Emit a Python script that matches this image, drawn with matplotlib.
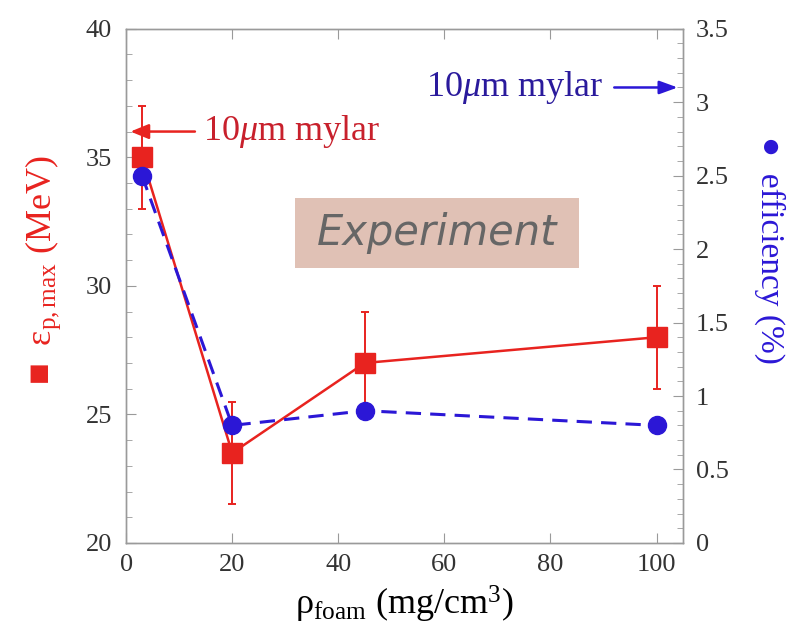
import numpy as np
import matplotlib
matplotlib.use("Agg")
import matplotlib.pyplot as plt
from matplotlib.patches import Rectangle
from matplotlib.ticker import MultipleLocator

plt.rcParams["font.family"] = ["Liberation Serif", "DejaVu Sans"]
plt.rcParams["mathtext.fontset"] = "custom"
plt.rcParams["mathtext.rm"] = "Liberation Serif"
plt.rcParams["mathtext.it"] = "Liberation Serif:italic"

# Veri
rho = [3, 20, 45, 100]
energy = [35.0, 23.5, 27.0, 28.0]
energy_err = [2.0, 2.0, 2.0, 2.0]
efficiency = [2.5, 0.8, 0.9, 0.8]

mylar_energy = 36.0
mylar_eff = 3.1

RED = "#e8231f"
BLUE = "#2b17d6"
GRAY = "#9a9a9a"
TXT = "#333333"

fig = plt.figure(figsize=(7.98, 6.38), dpi=100)
ax = fig.add_axes([0.158, 0.149, 0.698, 0.806])
ax2 = ax.twinx()

# Enerji (sol eksen)
ax.errorbar(rho, energy, yerr=energy_err, color=RED, lw=1.8, marker="s",
            ms=14, mec=RED, mfc=RED, ecolor=RED, elinewidth=1.4, capsize=3,
            capthick=1.4)
ax.set_xlim(0, 105)
ax.set_ylim(20, 40)

# Verim (sag eksen)
ax2.plot(rho, efficiency, color=BLUE, lw=2.2, ls=(0, (5, 3)), marker="o",
         ms=13, mfc=BLUE, mec=BLUE)
ax2.set_ylim(0, 3.5)

# Eksen ayarlari
for a in (ax, ax2):
    for s in a.spines.values():
        s.set_color(GRAY)
        s.set_linewidth(1.0)

ax.xaxis.set_major_locator(MultipleLocator(20))
ax.yaxis.set_major_locator(MultipleLocator(5))
ax.yaxis.set_minor_locator(MultipleLocator(1))
ax2.yaxis.set_minor_locator(MultipleLocator(0.1))
ax2.set_yticks([0, 0.5, 1, 1.5, 2, 2.5, 3, 3.5])
ax2.set_yticklabels(["0", "0.5", "1", "1.5", "2", "2.5", "3", "3.5"])

ax.tick_params(axis="x", which="both", direction="in", top=True,
               color=GRAY, length=7, labelsize=19, labelcolor=TXT, pad=8)
ax.tick_params(axis="y", which="major", direction="in", color=GRAY,
               length=7, labelsize=19, labelcolor=TXT, pad=10)
ax.tick_params(axis="y", which="minor", direction="in", color=GRAY, length=4)
ax2.tick_params(axis="y", which="major", direction="in", color=GRAY,
                length=7, labelsize=19, labelcolor=TXT, pad=9)
ax2.tick_params(axis="y", which="minor", direction="in", color=GRAY, length=4)

# Etiketler
ax.set_xlabel(r"$\mathrm{\rho}_{\mathrm{foam}}$ (mg/cm$^{\mathrm{3}}$)",
              fontsize=26, color="black", labelpad=6)
ax.set_ylabel("\u25a0  $\\mathrm{\u03b5}_{\\mathrm{p,max}}$ (MeV)",
              fontsize=26, color=RED, ha="center", va="center",
              rotation_mode="default")
ax.yaxis.set_label_coords(-0.148, 0.531)
ax2.set_ylabel("\u25cf  efficiency (%)", fontsize=24, color=BLUE,
               rotation=270, ha="center", va="center",
               rotation_mode="default")
ax2.yaxis.set_label_coords(1.156, 0.57)

# Mylar oklari
ax.annotate("", xy=(0.3, mylar_energy), xytext=(13.5, mylar_energy),
            arrowprops=dict(arrowstyle="-|>,head_length=1.1,head_width=0.45",
                            color=RED, lw=1.8))
ax.text(14.5, mylar_energy, r"10$\mu$m mylar", fontsize=26, color="#c8202c",
        va="center", ha="left")

ax2.annotate("", xy=(104.5, mylar_eff), xytext=(91.5, mylar_eff),
             arrowprops=dict(arrowstyle="-|>,head_length=1.1,head_width=0.4",
                             color=BLUE, lw=1.8))
ax2.text(90.0, mylar_eff, r"10$\mu$m mylar", fontsize=26, color="#2a1a9c",
         va="center", ha="right")

# Experiment kutusu
ax.add_patch(Rectangle((0.303, 0.535), 0.51, 0.136, transform=ax.transAxes,
                       facecolor="#e0c1b5", edgecolor="none", zorder=5))
ax.text(0.303 + 0.255, 0.535 + 0.068, "Experiment", transform=ax.transAxes,
        fontsize=30, family="DejaVu Sans", style="italic", color="#666666",
        ha="center", va="center", zorder=6)

fig.savefig("out.png", dpi=100)
